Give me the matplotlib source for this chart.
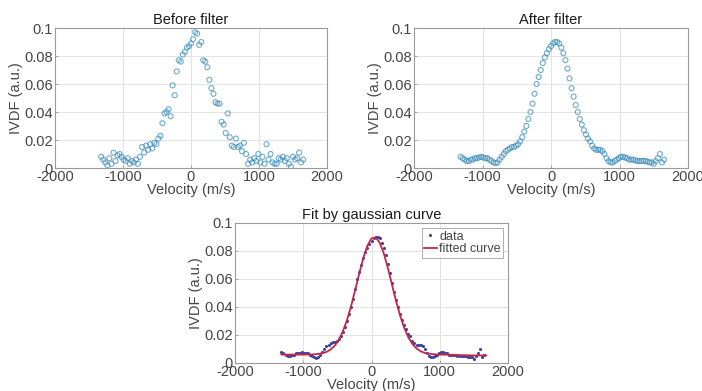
import numpy as np
import matplotlib
matplotlib.use("Agg")
import matplotlib.pyplot as plt

#%% Data
velocity = [-1320, -1290, -1260, -1230, -1200, -1170, -1140, -1110, -1080, -1050,
            -1020, -990, -960, -930, -900, -870, -840, -810, -780, -750,
            -720, -690, -660, -630, -600, -570, -540, -510, -480, -450,
            -420, -390, -360, -330, -300, -270, -240, -210, -180, -150,
            -120, -90, -60, -30, 0, 30, 60, 90, 120, 150,
            180, 210, 240, 270, 300, 330, 360, 390, 420, 450,
            480, 510, 540, 570, 600, 630, 660, 690, 720, 750,
            780, 810, 840, 870, 900, 930, 960, 990, 1020, 1050,
            1080, 1110, 1140, 1170, 1200, 1230, 1260, 1290, 1320, 1350,
            1380, 1410, 1440, 1470, 1500, 1530, 1560, 1590, 1620, 1650]

ivdf_raw = [0.008, 0.006, 0.004, 0.002, 0.007, 0.003, 0.011, 0.005, 0.009, 0.010,
            0.008, 0.006, 0.005, 0.007, 0.003, 0.005, 0.004, 0.006, 0.003, 0.008,
            0.015, 0.011, 0.016, 0.013, 0.017, 0.014, 0.018, 0.017, 0.021, 0.023,
            0.032, 0.039, 0.040, 0.042, 0.037, 0.059, 0.052, 0.069, 0.077, 0.076,
            0.081, 0.083, 0.086, 0.087, 0.089, 0.092, 0.097, 0.096, 0.088, 0.090,
            0.077, 0.076, 0.072, 0.063, 0.057, 0.053, 0.047, 0.046, 0.046, 0.033,
            0.031, 0.025, 0.039, 0.022, 0.016, 0.015, 0.021, 0.015, 0.016, 0.012,
            0.018, 0.010, 0.003, 0.006, 0.004, 0.007, 0.005, 0.010, 0.004, 0.008,
            0.003, 0.017, 0.006, 0.010, 0.004, 0.003, 0.003, 0.007, 0.006, 0.008,
            0.005, 0.007, 0.003, 0.001, 0.008, 0.006, 0.007, 0.011, 0.004, 0.006]

ivdf_filt = [0.008, 0.007, 0.006, 0.005, 0.005, 0.006, 0.006, 0.007, 0.007, 0.0075,
             0.008, 0.0075, 0.007, 0.007, 0.006, 0.005, 0.004, 0.0035, 0.004, 0.006,
             0.008, 0.010, 0.012, 0.013, 0.014, 0.015, 0.015, 0.016, 0.017, 0.019,
             0.022, 0.026, 0.030, 0.035, 0.040, 0.046, 0.053, 0.060, 0.065, 0.070,
             0.075, 0.079, 0.082, 0.085, 0.087, 0.089, 0.090, 0.090, 0.089, 0.086,
             0.082, 0.077, 0.071, 0.064, 0.057, 0.051, 0.045, 0.040, 0.035, 0.031,
             0.027, 0.024, 0.021, 0.019, 0.016, 0.014, 0.013, 0.013, 0.013, 0.012,
             0.010, 0.007, 0.005, 0.004, 0.004, 0.005, 0.006, 0.007, 0.008, 0.008,
             0.0075, 0.007, 0.006, 0.006, 0.006, 0.0055, 0.005, 0.005, 0.005, 0.005,
             0.005, 0.0045, 0.004, 0.004, 0.003, 0.005, 0.007, 0.010, 0.004, 0.006]

fit_velocity = [-1320, -1260, -1200, -1140, -1080, -1020, -960, -900, -840, -780,
                -720, -660, -600, -540, -480, -420, -360, -300, -240, -180,
                -120, -60, 0, 60, 120, 180, 240, 300, 360, 420,
                480, 540, 600, 660, 720, 780, 840, 900, 960, 1020,
                1080, 1140, 1200, 1260, 1320, 1380, 1440, 1500, 1560, 1680]
fit_ivdf = [0.0060, 0.0060, 0.0060, 0.0060, 0.0060, 0.0060, 0.0060, 0.0061, 0.0062, 0.0065,
            0.0070, 0.0079, 0.0096, 0.0123, 0.0165, 0.0225, 0.0305, 0.0405, 0.0520, 0.0639,
            0.0750, 0.0838, 0.0890, 0.0897, 0.0860, 0.0783, 0.0678, 0.0560, 0.0442, 0.0337,
            0.0250, 0.0183, 0.0135, 0.0104, 0.0084, 0.0072, 0.0066, 0.0063, 0.0061, 0.0060,
            0.0060, 0.0059, 0.0058, 0.0057, 0.0056, 0.0055, 0.0055, 0.0054, 0.0054, 0.0054]

xticks = [-2000, -1000, 0, 1000, 2000]
yticks = [0, 0.02, 0.04, 0.06, 0.08, 0.1]
ytick_labels = ['0', '0.02', '0.04', '0.06', '0.08', '0.1']

#%% Style
plt.rcParams['font.family'] = ['Liberation Sans', 'DejaVu Sans']
plt.rcParams['font.size'] = 10.5
plt.rcParams['axes.unicode_minus'] = False

W, H = 702, 391
fig = plt.figure(figsize=(W/100, H/100), dpi=100)

def setup(ax, title):
    ax.set_xlim(-2000, 2000)
    ax.set_ylim(0, 0.1)
    ax.set_xticks(xticks)
    ax.set_yticks(yticks)
    ax.set_yticklabels(ytick_labels)
    ax.grid(True, color='#e3e3e3', linewidth=0.7)
    ax.set_axisbelow(True)
    for s in ax.spines.values():
        s.set_color('#9a9a9a')
        s.set_linewidth(0.8)
    ax.tick_params(direction='in', length=2.5, colors='#aaaaaa',
                   labelcolor='#454545', labelsize=10.5, pad=1.5)
    ax.set_title(title, fontsize=10.5, color='#1a1a1a', pad=3)
    ax.set_xlabel('Velocity (m/s)', color='#454545', fontsize=10.5, labelpad=-1)
    ax.set_ylabel('IVDF (a.u.)', color='#454545', fontsize=10.5, labelpad=1)

#### Before filter
ax1 = fig.add_axes([55/W, 1-168/H, 272/W, 140/H])
ax1.scatter(velocity, ivdf_raw, s=13, facecolors='none',
            edgecolors='#3f8fbc', linewidths=0.8, alpha=0.75)
setup(ax1, 'Before filter')

#### After filter
ax2 = fig.add_axes([414/W, 1-168/H, 274/W, 140/H])
ax2.scatter(velocity, ivdf_filt, s=13, facecolors='none',
            edgecolors='#3f8fbc', linewidths=0.8, alpha=0.75)
setup(ax2, 'After filter')

#### Gaussian fit
ax3 = fig.add_axes([235/W, 1-363/H, 273/W, 140/H])
ax3.plot(velocity, ivdf_filt, '.', color='#3b45a0', markersize=2.5, label='data')
ax3.plot(fit_velocity, fit_ivdf, '-', color='#c8244a', linewidth=1.3, label='fitted curve')
setup(ax3, 'Fit by gaussian curve')
leg = ax3.legend(loc='upper right', fontsize=9, frameon=True, fancybox=False,
                 borderpad=0.2, labelspacing=0.05, handlelength=1.0,
                 handletextpad=0.2, borderaxespad=0.4)
leg.get_frame().set_edgecolor('#9a9a9a')
leg.get_frame().set_linewidth(0.7)
for t in leg.get_texts():
    t.set_color('#454545')

fig.savefig('out.png', dpi=100)
